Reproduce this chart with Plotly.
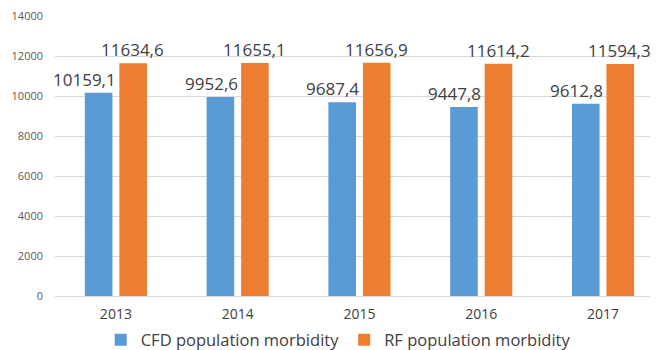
import plotly.graph_objects as go

years = ["2013", "2014", "2015", "2016", "2017"]
cfd = [10159.1, 9952.6, 9687.4, 9447.8, 9612.8]
rf = [11634.6, 11655.1, 11656.9, 11614.2, 11594.3]
cfd_labels = ["10159,1", "9952,6", "9687,4", "9447,8", "9612,8"]
rf_labels = ["11634,6", "11655,1", "11656,9", "11614,2", "11594,3"]
y_ticks = [0, 2000, 4000, 6000, 8000, 10000, 12000, 14000]

FONT = "Open Sans"
fig = go.Figure()
fig.add_trace(go.Bar(x=years, y=cfd, name="CFD population morbidity",
                     marker=dict(color="#5b9bd5", line=dict(width=0))))
fig.add_trace(go.Bar(x=years, y=rf, name="RF population morbidity",
                     marker=dict(color="#ed7d31", line=dict(width=0))))

for i, (v, t) in enumerate(zip(cfd, cfd_labels)):
    fig.add_annotation(x=i, y=v, text=t, showarrow=False, xanchor="right", yanchor="bottom",
                       xshift=2, yshift=0, font=dict(family=FONT, size=17, color="#404040"))
for i, (v, t) in enumerate(zip(rf, rf_labels)):
    fig.add_annotation(x=i, y=v, text=t, showarrow=False, xanchor="center", yanchor="bottom",
                       xshift=17, yshift=0, font=dict(family=FONT, size=17, color="#404040"))

fig.update_layout(
    width=657, height=350,
    margin=dict(l=55, r=7, t=16, b=54, autoexpand=False),
    paper_bgcolor="white", plot_bgcolor="white",
    barmode="group", bargap=0.433, bargroupgap=0.2,
    font=dict(family=FONT, color="#595959"),
    showlegend=True,
    legend=dict(orientation="h", x=0.476, xanchor="center", y=-0.157, yanchor="middle",
                bgcolor="rgba(0,0,0,0)",
                font=dict(family=FONT, size=16.5, color="#404040"),
                itemwidth=30, traceorder="normal"),
    xaxis=dict(type="category", range=[-0.5, 4.386], showgrid=False, showline=False,
               ticks="", ticklabelstandoff=8,
               tickfont=dict(family=FONT, size=14, color="#404040")),
    yaxis=dict(range=[0, 14000], tickvals=y_ticks, ticktext=[str(v) for v in y_ticks],
               showgrid=True, gridcolor="#d9d9d9", gridwidth=1,
               zeroline=True, zerolinecolor="#d9d9d9", zerolinewidth=1,
               showline=False, ticks="", ticklabelstandoff=11,
               tickfont=dict(family=FONT, size=11, color="#595959")),
)
fig.write_html("out.html")
